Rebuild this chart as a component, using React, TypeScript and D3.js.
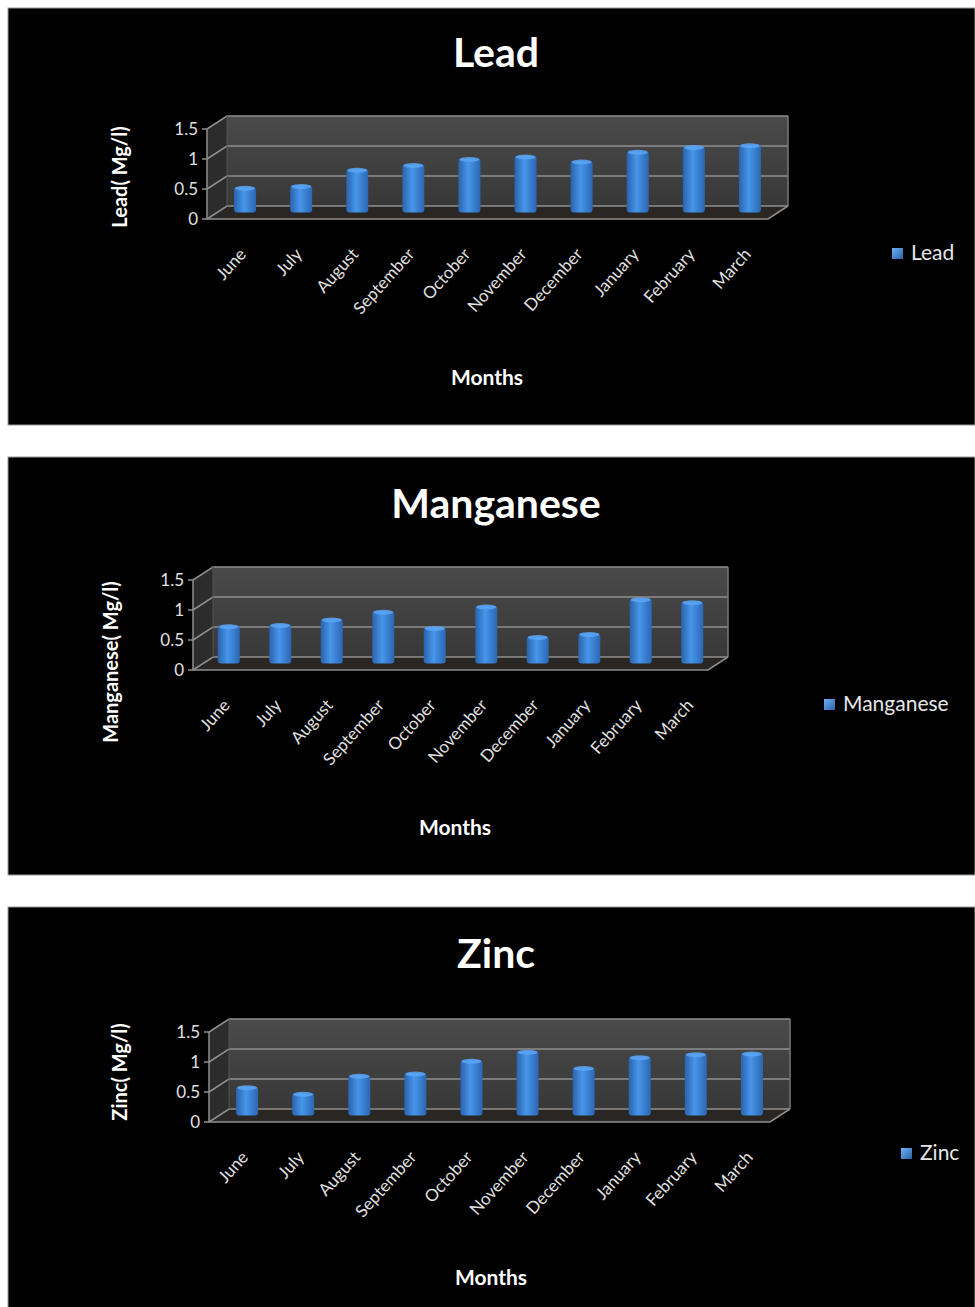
import React from "react";
import * as d3 from "d3";

// Monthly metal concentrations (Mg/l)
const months = ["June", "July", "August", "September", "October", "November", "December", "January", "February", "March"];
const leadValues = [0.42, 0.45, 0.72, 0.8, 0.9, 0.94, 0.86, 1.02, 1.1, 1.13];
const manganeseValues = [0.63, 0.65, 0.74, 0.87, 0.6, 0.96, 0.45, 0.5, 1.08, 1.03];
const zincValues = [0.48, 0.37, 0.67, 0.71, 0.92, 1.07, 0.8, 0.98, 1.03, 1.04];
const yTicks = [0, 0.5, 1, 1.5];
const yTickLabels = ["0", "0.5", "1", "1.5"];

const FONT = "Lato, 'Open Sans', sans-serif";
const DX = 20; // depth offset of the back wall
const DY = -13;

type PanelProps = {
  id: string;
  top: number;
  height: number;
  title: string;
  titleY: number;
  yTitle: string;
  yTitleX: number;
  yTitleY: number;
  values: number[];
  x0: number;
  x1: number;
  yZero: number;
  yTop: number;
  monthsX: number;
  monthsY: number;
  legendX: number;
  legendY: number;
  legendLabel: string;
};

function Panel(p: PanelProps) {
  const x = d3.scaleBand<string>().domain(months).range([p.x0, p.x1]);
  const y = d3.scaleLinear().domain([0, 1.5]).range([p.yZero, p.yTop]);
  const bw = x.bandwidth();
  const barW = 22;
  const grid = "#8f8f8f";
  const bx0 = p.x0 + DX;
  const bx1 = p.x1 + DX;
  return (
    <g>
      <rect x={8} y={p.top} width={967} height={p.height} fill="#000" stroke="#9a9a9a" strokeWidth={1} />
      <text x={496} y={p.titleY} textAnchor="middle" fill="#fff" fontFamily={FONT} fontWeight="bold" fontSize={41}>
        {p.title}
      </text>
      {/* walls */}
      <rect x={bx0} y={y(1.5) + DY} width={p.x1 - p.x0} height={y(0) - y(1.5)} fill={`url(#wall-${p.id})`} />
      <polygon
        points={`${p.x0},${y(0)} ${p.x0},${y(1.5)} ${bx0},${y(1.5) + DY} ${bx0},${y(0) + DY}`}
        fill="#2c2c2c"
      />
      <polygon
        points={`${p.x0},${y(0)} ${p.x1},${y(0)} ${bx1},${y(0) + DY} ${bx0},${y(0) + DY}`}
        fill="#2a2623"
      />
      {/* gridlines on left and back walls */}
      {yTicks.map((t) => (
        <polyline
          key={t}
          points={`${p.x0},${y(t)} ${bx0},${y(t) + DY} ${bx1},${y(t) + DY}`}
          fill="none"
          stroke={grid}
          strokeWidth={1.5}
        />
      ))}
      <line x1={bx1} y1={y(1.5) + DY} x2={bx1} y2={y(0) + DY} stroke="#777" strokeWidth={1.5} />
      <line x1={bx0} y1={y(1.5) + DY} x2={bx0} y2={y(0) + DY} stroke="#555" strokeWidth={1} />
      {/* floor front edge */}
      <polyline
        points={`${p.x0},${y(0)} ${p.x1},${y(0)} ${bx1},${y(0) + DY}`}
        fill="none"
        stroke={grid}
        strokeWidth={1.5}
      />
      {/* vertical axis */}
      <line x1={p.x0} y1={y(0)} x2={p.x0} y2={y(1.5)} stroke={grid} strokeWidth={1.5} />
      {yTicks.map((t, i) => (
        <g key={t}>
          <line x1={p.x0 - 5} y1={y(t)} x2={p.x0} y2={y(t)} stroke={grid} strokeWidth={1.5} />
          <text
            x={p.x0 - 9}
            y={y(t)}
            dy="0.35em"
            textAnchor="end"
            fill="#e0e0e0"
            fontFamily={FONT}
            fontSize={17}
          >
            {yTickLabels[i]}
          </text>
        </g>
      ))}
      {/* bars at mid depth */}
      {months.map((m, i) => {
        const cx = (x(m) as number) + bw / 2 + DX / 2;
        const base = y(0) + DY / 2;
        const topY = y(p.values[i]) + DY / 2;
        return (
          <g key={m}>
            <rect x={cx - barW / 2} y={topY} width={barW} height={base - topY} fill={`url(#bar-${p.id})`} rx={3} />
            <ellipse cx={cx} cy={topY + 1} rx={barW / 2 - 1} ry={2.5} fill="#5aa6f5" opacity={0.85} />
          </g>
        );
      })}
      {/* category labels */}
      {months.map((m) => {
        const lx = (x(m) as number) + bw / 2 + 12;
        const ly = y(0) + 36;
        return (
          <text
            key={m}
            transform={`translate(${lx},${ly}) rotate(-48)`}
            textAnchor="end"
            fill="#e0e0e0"
            fontFamily={FONT}
            fontSize={17}
          >
            {m}
          </text>
        );
      })}
      <text
        transform={`translate(${p.yTitleX},${p.yTitleY}) rotate(-90)`}
        textAnchor="middle"
        fill="#fff"
        fontFamily={FONT}
        fontWeight="bold"
        fontSize={20}
      >
        {p.yTitle}
      </text>
      <text x={p.monthsX} y={p.monthsY} textAnchor="middle" fill="#fff" fontFamily={FONT} fontWeight="bold" fontSize={21}>
        Months
      </text>
      <rect x={p.legendX} y={p.legendY} width={11} height={11} fill={`url(#leg-${p.id})`} />
      <text x={p.legendX + 19} y={p.legendY + 12} fill="#e6e6e6" fontFamily={FONT} fontSize={21}>
        {p.legendLabel}
      </text>
    </g>
  );
}

const panels: PanelProps[] = [
  {
    id: "lead", top: 8, height: 417, title: "Lead", titleY: 67,
    yTitle: "Lead( Mg/l)", yTitleX: 127, yTitleY: 177, values: leadValues,
    x0: 207, x1: 768, yZero: 219, yTop: 129, monthsX: 487, monthsY: 385,
    legendX: 892, legendY: 248, legendLabel: "Lead",
  },
  {
    id: "mn", top: 457, height: 418, title: "Manganese", titleY: 518,
    yTitle: "Manganese( Mg/l)", yTitleX: 118, yTitleY: 662, values: manganeseValues,
    x0: 193, x1: 708, yZero: 670, yTop: 580, monthsX: 455, monthsY: 835,
    legendX: 824, legendY: 699, legendLabel: "Manganese",
  },
  {
    id: "zn", top: 907, height: 401, title: "Zinc", titleY: 968,
    yTitle: "Zinc( Mg/l)", yTitleX: 127, yTitleY: 1072, values: zincValues,
    x0: 209, x1: 770, yZero: 1122, yTop: 1032, monthsX: 491, monthsY: 1285,
    legendX: 901, legendY: 1148, legendLabel: "Zinc",
  },
];

export default function App() {
  return (
    <svg
      width={975}
      height={1307}
      style={{ position: "absolute", left: 0, top: 0, background: "#fff" }}
    >
      <defs>
        {panels.map((p) => (
          <g key={p.id}>
            <linearGradient id={`bar-${p.id}`} x1="0" x2="1" y1="0" y2="0">
              <stop offset="0" stopColor="#2a63ad" />
              <stop offset="0.45" stopColor="#4796ea" />
              <stop offset="1" stopColor="#2b66b3" />
            </linearGradient>
            <linearGradient id={`wall-${p.id}`} x1="0" x2="0" y1="0" y2="1">
              <stop offset="0" stopColor="#4a4a4a" />
              <stop offset="1" stopColor="#383838" />
            </linearGradient>
            <linearGradient id={`leg-${p.id}`} x1="0" x2="1" y1="0" y2="1">
              <stop offset="0" stopColor="#6fb0f5" />
              <stop offset="1" stopColor="#2c63a8" />
            </linearGradient>
          </g>
        ))}
      </defs>
      {panels.map((p) => (
        <Panel key={p.id} {...p} />
      ))}
    </svg>
  );
}
